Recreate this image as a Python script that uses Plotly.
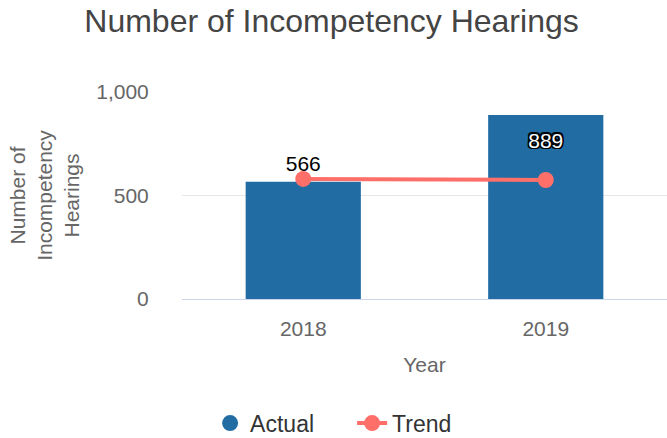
import plotly.graph_objects as go

# data
years = ["2018", "2019"]
actual = [566, 889]
trend = [580, 575]

bar_color = "#216ca3"
trend_color = "#ff6f69"
font_family = "Liberation Sans, Arial, sans-serif"

fig = go.Figure()

fig.add_trace(go.Bar(
    x=years, y=actual, name="Actual", showlegend=False,
    marker=dict(color=bar_color, line=dict(width=0)),
    width=0.475,
))

# value labels: first above its bar, second inside the top of its bar
outside_txt = [f"{v:,}" if i == 0 else "" for i, v in enumerate(actual)]
inside_txt = [f"{v:,}" if i == 1 else "" for i, v in enumerate(actual)]

fig.add_trace(go.Scatter(
    x=years, y=actual, mode="markers+text", text=outside_txt,
    textposition="top center", showlegend=False, hoverinfo="skip",
    marker=dict(size=8, opacity=0), cliponaxis=False,
    textfont=dict(size=21, color="#000000", family=font_family),
))
fig.add_trace(go.Scatter(
    x=years, y=actual, mode="markers+text", text=inside_txt,
    textposition="bottom center", showlegend=False, hoverinfo="skip",
    marker=dict(size=26, opacity=0), cliponaxis=False,
    textfont=dict(size=21, color="#ffffff", family=font_family,
                  shadow="1.5px 1.5px 0 #000, -1.5px -1.5px 0 #000, 1.5px -1.5px 0 #000, -1.5px 1.5px 0 #000"),
))

# legend-only circle for Actual
fig.add_trace(go.Scatter(
    x=[None], y=[None], mode="markers", name="Actual",
    marker=dict(color=bar_color, size=16, symbol="circle"),
))

fig.add_trace(go.Scatter(
    x=years, y=trend, mode="lines+markers", name="Trend",
    line=dict(color=trend_color, width=4),
    marker=dict(color=trend_color, size=16),
    cliponaxis=False,
))

fig.update_layout(
    width=667, height=438,
    margin=dict(l=182, r=0, t=92, b=139),
    paper_bgcolor="white", plot_bgcolor="white",
    font=dict(family=font_family, size=21, color="#666666"),
    title=dict(text="Number of Incompetency Hearings", x=0.497, xanchor="center",
               y=0.953, yanchor="middle",
               font=dict(size=32, color="#444444")),
    showlegend=True,
    legend=dict(orientation="h", xref="container", yref="container",
                x=0.315, xanchor="left", y=0.034, yanchor="middle",
                font=dict(size=23, color="#333333"), itemwidth=30, entrywidth=97),
    bargap=0.525,
)

fig.update_xaxes(
    type="category", showgrid=False, automargin=False,
    showline=True, linecolor="#ccd6eb", linewidth=1,
    ticks="outside", ticklen=11, tickcolor="rgba(0,0,0,0)",
    tickfont=dict(size=21, color="#666666"),
    title=dict(text="Year", font=dict(size=21, color="#666666"), standoff=18),
)

fig.update_yaxes(
    range=[0, 1000], tickvals=[0, 500, 1000], tickformat=",",
    automargin=False,
    showgrid=True, gridcolor="#e6e6e6", gridwidth=1,
    zeroline=True, zerolinecolor="#ccd6eb", zerolinewidth=1,
    showline=False,
    ticks="outside", ticklen=28, tickcolor="rgba(0,0,0,0)",
    tickfont=dict(size=21, color="#666666"),
    title=dict(text="Number of<br>Incompetency<br>Hearings",
               font=dict(size=21, color="#666666"), standoff=10),
)

# page body has a default 8px margin; remove it so the figure sits at the corner
fig.write_html("out.html", config={"displayModeBar": False},
               post_script="document.body.style.margin='0';")
